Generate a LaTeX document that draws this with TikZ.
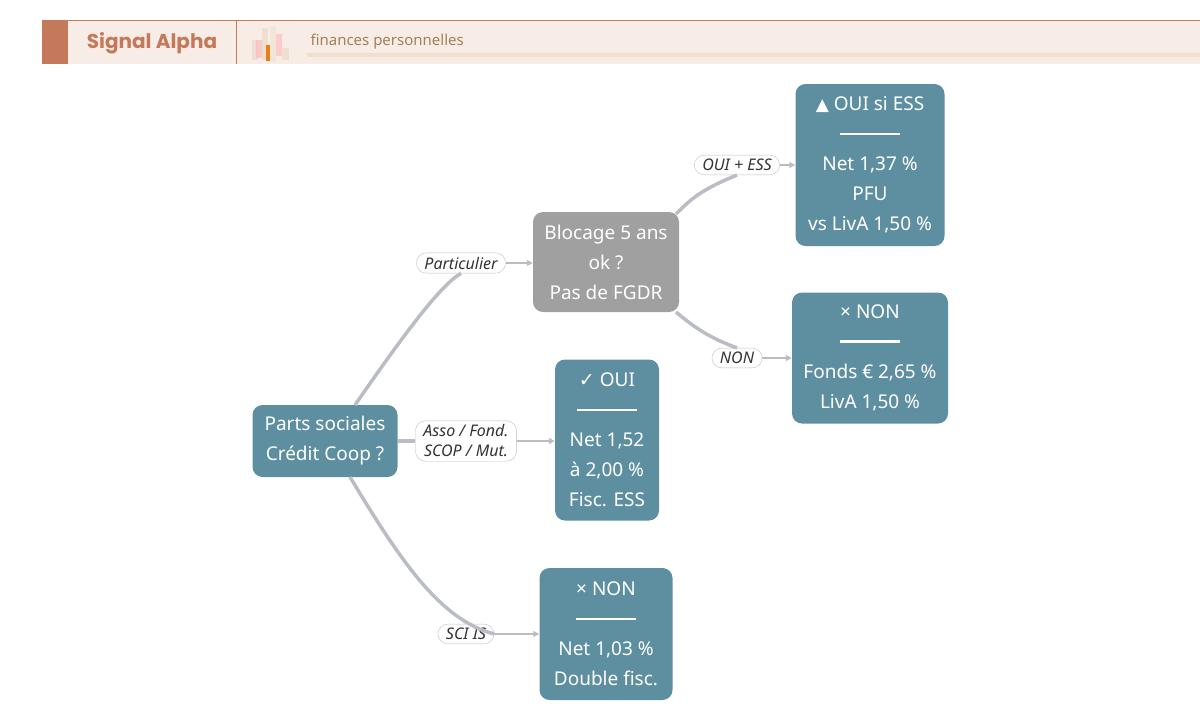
\documentclass[tikz,border=0pt]{standalone}
\usepackage{fontspec}
\setmainfont{Noto Sans}
\newfontfamily\pop{Poppins}
\newfontfamily\djv{DejaVu Sans}
\usetikzlibrary{arrows.meta}
\definecolor{teal}{HTML}{5E8FA0}
\definecolor{gbox}{HTML}{A0A0A0}
\definecolor{edge}{HTML}{BABDC4}
\definecolor{terra}{HTML}{C47A5A}
\definecolor{hbg}{HTML}{F7ECE6}
\begin{document}
\begin{tikzpicture}[x=1pt,y=-1pt,
 box/.style={rounded corners=10pt,fill=teal,text=white,inner sep=0pt,align=center,font=\fontsize{19}{30}\selectfont},
 lab/.style={draw=gray!50,fill=white,rounded corners=10pt,inner xsep=8pt,inner ysep=4pt,font=\fontsize{16}{20}\selectfont\itshape,text=black!80,align=center},
 con/.style={draw=edge,line width=3.5pt},
 arr/.style={draw=edge,line width=2pt,-{Triangle[length=6pt,width=6pt]}}]
\useasboundingbox (0,0) rectangle (1200,721);
% header
\fill[hbg] (42,20) rectangle (1200,64);
\draw[terra,line width=0.8pt] (42,20) -- (1200,20);
\fill[terra] (42,20) rectangle (68,64);
\draw[terra,line width=0.8pt] (236,20) -- (236,64);
\node[font=\pop\bfseries\fontsize{20}{22}\selectfont,text=terra] (title) at (152,43) {Signal Alpha};
\fill[terra!30,opacity=.7] (252,40) rectangle (258,60);
\fill[brown!25] (262,28) rectangle (268,60);
\fill[red!30,opacity=.6] (256,40) rectangle (262,58);
\fill[orange!60!brown] (266,45) rectangle (272,61);
\fill[brown!20] (270,26) rectangle (276,62);
\fill[red!25,opacity=.7] (276,34) rectangle (282,56);
\fill[brown!25] (282,48) rectangle (289,60);
\node[font=\fontsize{15}{16}\selectfont,text=brown!60!gray,anchor=west] (sub) at (307,42) {finances personnelles};
\fill[brown!25] (307,53) rectangle (1200,57);
% nodes
\node[box,minimum width=145pt,minimum height=72pt] (root) at (325,441) {Parts sociales\\Crédit Coop ?};
\node[box,fill=gbox,minimum width=146pt,minimum height=100pt] (blk) at (606,262) {Blocage 5 ans\\ok ?\\Pas de FGDR};
\node[box,minimum width=149pt,minimum height=162pt] (ess) at (870,165) {{\djv\fontsize{17}{18}\selectfont ▲} OUI si ESS\\\rule[6pt]{60pt}{2.2pt}\\Net 1,37 \%\\PFU\\vs LivA 1,50 \%};
\node[box,minimum width=156pt,minimum height=131pt] (non1) at (870,358) {× NON\\\rule[6pt]{60pt}{2.2pt}\\Fonds € 2,65 \%\\LivA 1,50 \%};
\node[box,minimum width=104pt,minimum height=161pt] (oui) at (607,440) {{\djv ✓} OUI\\\rule[6pt]{60pt}{2.2pt}\\Net 1,52\\à 2,00 \%\\Fisc. ESS};
\node[box,minimum width=133pt,minimum height=132pt] (non2) at (606,634) {× NON\\\rule[6pt]{60pt}{2.2pt}\\Net 1,03 \%\\Double fisc.};
% labels
\node[lab] (lp) at (461,263) {Particulier};
\node[lab] (le) at (737,165) {OUI + ESS};
\node[lab] (ln) at (737,358) {NON};
\node[lab] (la) at (466,441) {Asso / Fond.\\SCOP / Mut.};
\node[lab] (ls) at (466,634) {SCI IS};
% connectors
\draw[con] (355,405) .. controls (400,340) and (440,285) .. (lp.south);
\draw[arr] (lp.east) -- (blk.west|-lp.east);
\draw[con] (676,214) .. controls (690,200) and (700,190) .. (le.south);
\draw[arr] (le.east) -- (ess.west|-le.east);
\draw[con] (676,312) .. controls (695,328) and (710,338) .. (ln.north);
\draw[arr] (ln.east) -- (non1.west|-ln.east);
\draw[con] (root.east) -- (la.west);
\draw[arr] (la.east) -- (oui.west|-la.east);
\draw[con] (350,477) .. controls (400,560) and (440,620) .. (ls.east);
\draw[arr] (ls.east) .. controls (515,634) .. (non2.west);
\end{tikzpicture}
\end{document}
